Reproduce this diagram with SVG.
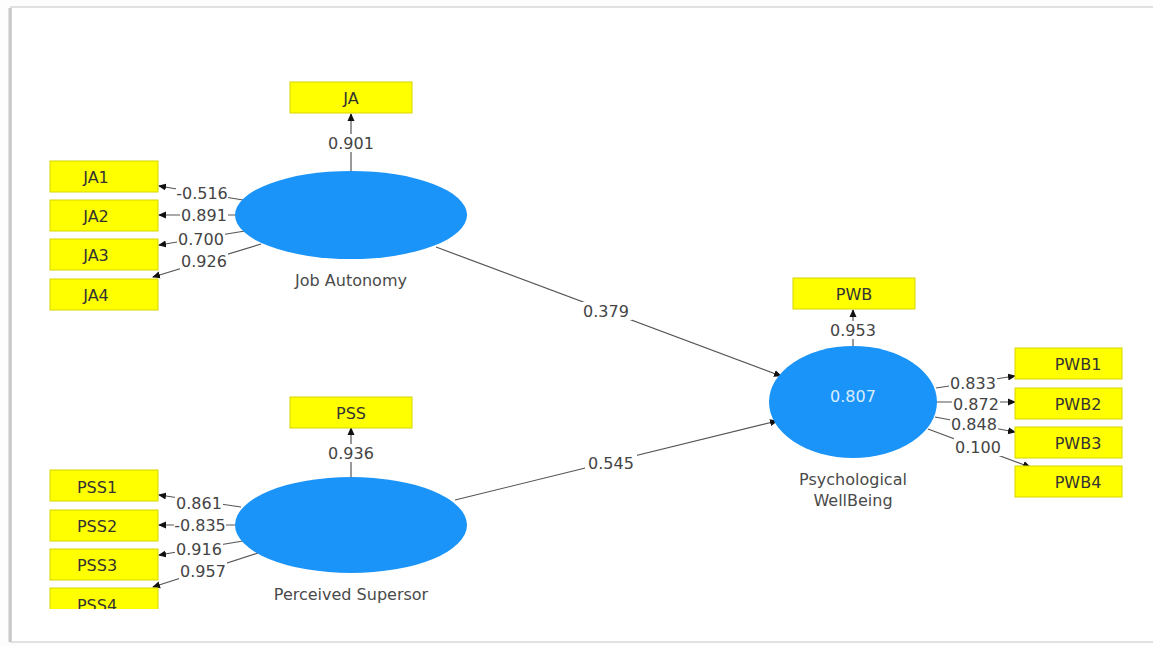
<svg xmlns="http://www.w3.org/2000/svg" width="1153" height="646" viewBox="0 0 1153 646">
<style>
.box{fill:#ffff00;stroke:#d6d600;stroke-width:1}
.lv{fill:#1a94f8}
.t{font-family:"DejaVu Sans","Noto Sans",sans-serif;font-size:16px;fill:#333;text-anchor:middle;dominant-baseline:central}
.w{font-family:"DejaVu Sans","Noto Sans",sans-serif;font-size:16px;fill:#4a4a4a;text-anchor:middle;dominant-baseline:central}
.lbl{font-family:"DejaVu Sans","Noto Sans",sans-serif;font-size:16px;fill:#444;text-anchor:middle;dominant-baseline:central}
.bg{fill:#fff}
.c{stroke:#555;stroke-width:1.2;fill:none;marker-end:url(#ah)}
</style>
<defs>
<marker id="ah" markerWidth="8" markerHeight="8" refX="7" refY="4" orient="auto" markerUnits="userSpaceOnUse">
<path d="M0,0.5 L8,4 L0,7.5 Z" fill="#111"/>
</marker>
<clipPath id="clipPss4"><rect x="40" y="585" width="130" height="24"/></clipPath>
</defs>
<rect x="0" y="0" width="1153" height="646" fill="#fdfdfd"/>
<rect x="11" y="7" width="1150" height="635" fill="#fff" stroke="#d8d8d8" stroke-width="1.5"/>
<line x1="10" y1="8" x2="10" y2="642" stroke="#c8c8c8" stroke-width="3"/>

<g id="connectors">
<line class="c" x1="351" y1="171" x2="351" y2="114"/>
<line class="c" x1="243" y1="200" x2="159" y2="186"/>
<line class="c" x1="235" y1="215" x2="159" y2="215"/>
<line class="c" x1="245" y1="231" x2="159" y2="245"/>
<line class="c" x1="261" y1="244" x2="153" y2="277"/>
<line class="c" x1="351" y1="477" x2="351" y2="428"/>
<line class="c" x1="241" y1="507" x2="159" y2="495"/>
<line class="c" x1="235" y1="525" x2="159" y2="525"/>
<line class="c" x1="243" y1="541" x2="159" y2="555"/>
<line class="c" x1="258" y1="553" x2="153" y2="587"/>
<line class="c" x1="853" y1="346" x2="853" y2="310"/>
<line class="c" x1="936" y1="388" x2="1015" y2="376"/>
<line class="c" x1="937" y1="402" x2="1015" y2="402"/>
<line class="c" x1="935" y1="417" x2="1015" y2="432"/>
<line class="c" x1="928" y1="429" x2="1030" y2="467"/>
<line class="c" x1="436" y1="247" x2="781" y2="376"/>
<line class="c" x1="455" y1="500" x2="777" y2="421"/>
<rect class="bg" x="327" y="134" width="48" height="18"/>
<rect class="bg" x="176" y="184" width="52" height="18"/>
<rect class="bg" x="180" y="206" width="48" height="18"/>
<rect class="bg" x="177" y="230" width="48" height="18"/>
<rect class="bg" x="180" y="252" width="48" height="18"/>
<rect class="bg" x="327" y="444" width="48" height="18"/>
<rect class="bg" x="175" y="494" width="48" height="18"/>
<rect class="bg" x="174" y="516" width="52" height="18"/>
<rect class="bg" x="175" y="540" width="48" height="18"/>
<rect class="bg" x="179" y="562" width="48" height="18"/>
<rect class="bg" x="829" y="321" width="48" height="18"/>
<rect class="bg" x="949" y="374" width="48" height="18"/>
<rect class="bg" x="952" y="395" width="48" height="18"/>
<rect class="bg" x="950" y="415" width="48" height="18"/>
<rect class="bg" x="954" y="438" width="48" height="18"/>
<rect class="bg" x="580" y="302" width="52" height="18"/>
<rect class="bg" x="585" y="454" width="52" height="18"/>
<text class="lbl" x="351" y="143">0.901</text>
<text class="lbl" x="202" y="193">-0.516</text>
<text class="lbl" x="204" y="215">0.891</text>
<text class="lbl" x="201" y="239">0.700</text>
<text class="lbl" x="204" y="261">0.926</text>
<text class="lbl" x="351" y="453">0.936</text>
<text class="lbl" x="199" y="503">0.861</text>
<text class="lbl" x="200" y="525">-0.835</text>
<text class="lbl" x="199" y="549">0.916</text>
<text class="lbl" x="203" y="571">0.957</text>
<text class="lbl" x="853" y="330">0.953</text>
<text class="lbl" x="973" y="383">0.833</text>
<text class="lbl" x="976" y="404">0.872</text>
<text class="lbl" x="974" y="424">0.848</text>
<text class="lbl" x="978" y="447">0.100</text>
<text class="lbl" x="606" y="311">0.379</text>
<text class="lbl" x="611" y="463">0.545</text>
</g>

<g id="JobAutonomy">
<ellipse class="lv" cx="351" cy="215" rx="116" ry="44"/>
<text class="w" x="351" y="280">Job Autonomy</text>
</g>
<g id="PerceivedSupersor">
<ellipse class="lv" cx="351" cy="525" rx="116" ry="48"/>
<text class="w" x="351" y="594">Perceived Supersor</text>
</g>
<g id="PsychologicalWellBeing">
<ellipse class="lv" cx="853" cy="402" rx="84" ry="56"/>
<text x="853" y="396" font-family="DejaVu Sans, Noto Sans, sans-serif" font-size="16" fill="#d8ecff" text-anchor="middle" dominant-baseline="central">0.807</text>
<text class="w" x="853" y="479">Psychological</text>
<text class="w" x="853" y="500">WellBeing</text>
</g>

<g id="JA"><rect class="box" x="290" y="82" width="122" height="31"/><text class="t" x="351" y="98">JA</text></g>
<g id="JA1"><rect class="box" x="50" y="161" width="108" height="31"/><text class="t" x="96" y="177">JA1</text></g>
<g id="JA2"><rect class="box" x="50" y="200" width="108" height="31"/><text class="t" x="96" y="216">JA2</text></g>
<g id="JA3"><rect class="box" x="50" y="239" width="108" height="31"/><text class="t" x="96" y="255">JA3</text></g>
<g id="JA4"><rect class="box" x="50" y="279" width="108" height="31"/><text class="t" x="96" y="295">JA4</text></g>

<g id="PSS"><rect class="box" x="290" y="397" width="122" height="31"/><text class="t" x="351" y="413">PSS</text></g>
<g id="PSS1"><rect class="box" x="50" y="470" width="108" height="31"/><text class="t" x="97" y="487">PSS1</text></g>
<g id="PSS2"><rect class="box" x="50" y="510" width="108" height="31"/><text class="t" x="97" y="526">PSS2</text></g>
<g id="PSS3"><rect class="box" x="50" y="549" width="108" height="31"/><text class="t" x="97" y="565">PSS3</text></g>
<g id="PSS4" clip-path="url(#clipPss4)"><rect class="box" x="50" y="588" width="108" height="31"/><text class="t" x="97" y="605">PSS4</text></g>

<g id="PWB"><rect class="box" x="793" y="278" width="122" height="31"/><text class="t" x="854" y="294">PWB</text></g>
<g id="PWB1"><rect class="box" x="1015" y="348" width="107" height="31"/><text class="t" x="1078" y="364">PWB1</text></g>
<g id="PWB2"><rect class="box" x="1015" y="388" width="107" height="31"/><text class="t" x="1078" y="404">PWB2</text></g>
<g id="PWB3"><rect class="box" x="1015" y="427" width="107" height="31"/><text class="t" x="1078" y="443">PWB3</text></g>
<g id="PWB4"><rect class="box" x="1015" y="466" width="107" height="31"/><text class="t" x="1078" y="482">PWB4</text></g>
</svg>
